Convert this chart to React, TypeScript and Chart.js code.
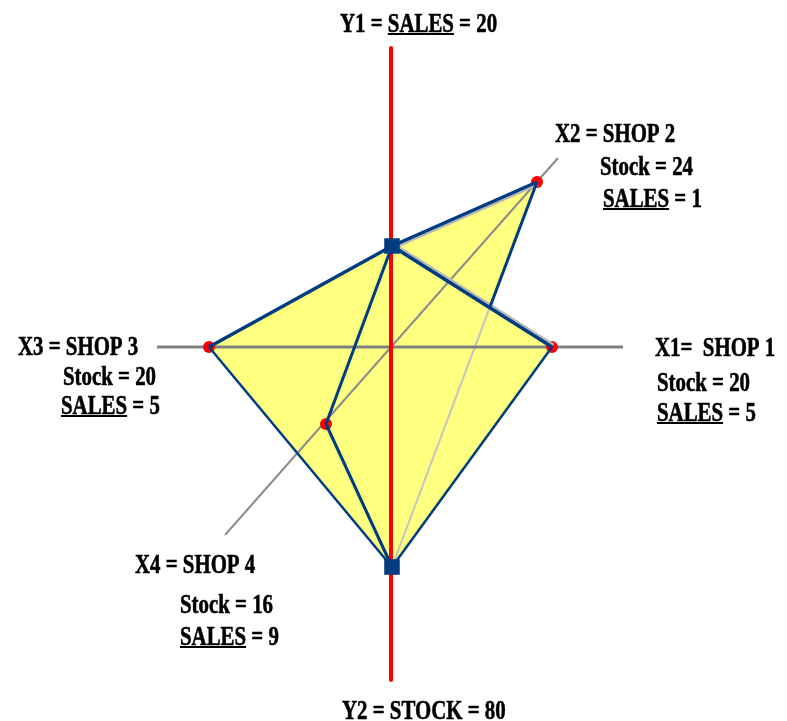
import React, { useEffect, useRef } from "react";
import { Chart, registerables } from "chart.js";

Chart.register(...registerables);

// ---------- data ----------
const shopIds = ["X1", "X2", "X3", "X4"];
const shopNames = ["SHOP 1", "SHOP 2", "SHOP 3", "SHOP 4"];
const shopStock = [20, 24, 20, 16];
const shopSales = [5, 1, 5, 9];
const totalSales = 20;
const totalStock = 80;

// positions of the shop points in chart units
const shopPosX = [16.1, 14.6, -18.2, -6.5];
const shopPosY = [0, 16.5, 0, -7.7];
// totals on the vertical axis
const salesPos = [0.1, 10.1];
const stockPos = [0.1, -22.0];

// axis extents in chart units
const verticalAxisY = [29.9, -33.3];
const horizontalAxisX = [-23.4, 23.2];
const diagonalAxisX = [-16.6, 16.7];
const diagonalAxisY = [-18.8, 18.9];

// ---------- layout / style ----------
const X_MIN = -39.1, X_MAX = 39.6, Y_MIN = -37.4, Y_MAX = 34.7;
const BLUE = "#003c80";
const RED = "#ff0000";
const GRAY = "#808080";
const LIGHT_GRAY = "#c4c4c4";
const SHADOW_GRAY = "#b8b8b8";
const YELLOW = "#ffff80";
const FONT = "bold 28px 'Liberation Serif', 'Times New Roman', serif";
const TEXT_SCALE_X = 0.745;

// label anchors (left, baseline) in chart units for each shop: 3 lines
const shopLabelX = [[26.4, 26.6, 26.6], [16.4, 20.9, 21.2], [-37.3, -32.8, -33.0], [-25.6, -21.1, -21.1]];
const shopLabelY = [[-0.9, -4.4, -7.4], [20.5, 17.2, 14.0], [-0.8, -3.8, -6.7], [-22.6, -26.6, -29.8]];
const salesLabelPos = [-5.1, 31.5];
const stockLabelPos = [-4.9, -37.2];

type P = { x: number; y: number };
const shopPts: P[] = shopPosX.map((x, i) => ({ x, y: shopPosY[i] }));
const Y1: P = { x: salesPos[0], y: salesPos[1] };
const Y2: P = { x: stockPos[0], y: stockPos[1] };

function intersect(a: P, b: P, c: P, d: P): P {
  const r = { x: b.x - a.x, y: b.y - a.y };
  const s = { x: d.x - c.x, y: d.y - c.y };
  const den = r.x * s.y - r.y * s.x;
  const t = ((c.x - a.x) * s.y - (c.y - a.y) * s.x) / den;
  return { x: a.x + t * r.x, y: a.y + t * r.y };
}

const [X1, X2, X3, X4] = shopPts;
const Pcross = intersect(X2, Y2, Y1, X1);

const fillPolys: P[][] = [
  [X3, Y1, X1, Y2],
  [Y1, X2, Y2],
];

function lineDs(pts: P[], color: string, width: number, order: number) {
  return {
    type: "scatter" as const,
    data: pts,
    showLine: true,
    borderColor: color,
    backgroundColor: color,
    borderWidth: width,
    pointRadius: 0,
    fill: false,
    order,
    borderCapStyle: "butt" as const,
    borderJoinStyle: "round" as const,
  };
}

// soft gray halo drawn just under an edge (offset by a fraction of a chart unit)
function shadowDs(a: P, b: P, dx: number, dy: number) {
  return lineDs([{ x: a.x + dx, y: a.y + dy }, { x: b.x + dx, y: b.y + dy }], SHADOW_GRAY, 3, 1.5);
}

function drawText(ctx: CanvasRenderingContext2D, text: string, px: number, py: number) {
  ctx.save();
  ctx.translate(px, py);
  ctx.scale(TEXT_SCALE_X, 1);
  ctx.fillText(text, 0, 0);
  ctx.strokeText(text, 0, 0);
  const idx = text.indexOf("SALES");
  if (idx >= 0) {
    const pre = ctx.measureText(text.slice(0, idx)).width;
    const w = ctx.measureText("SALES").width;
    ctx.fillRect(pre, 1, w, 2);
  }
  ctx.restore();
}

const overlayPlugin = {
  id: "overlay",
  beforeDatasetsDraw(chart: any) {
    const { ctx, scales } = chart;
    const sx = scales.x, sy = scales.y;
    ctx.save();
    ctx.fillStyle = YELLOW;
    for (const poly of fillPolys) {
      ctx.beginPath();
      poly.forEach((p, i) => {
        const X = sx.getPixelForValue(p.x), Yp = sy.getPixelForValue(p.y);
        if (i === 0) ctx.moveTo(X, Yp); else ctx.lineTo(X, Yp);
      });
      ctx.closePath();
      ctx.fill();
    }
    ctx.restore();
  },
  afterDatasetsDraw(chart: any) {
    const { ctx, scales } = chart;
    const sx = scales.x, sy = scales.y;
    ctx.save();
    ctx.font = FONT;
    ctx.fillStyle = "#000";
    ctx.strokeStyle = "#000";
    ctx.lineWidth = 0.6;
    ctx.textAlign = "left";
    ctx.textBaseline = "alphabetic";
    const at = (x: number, y: number, t: string) => drawText(ctx, t, sx.getPixelForValue(x), sy.getPixelForValue(y));
    at(salesLabelPos[0], salesLabelPos[1], `Y1 = SALES = ${totalSales}`);
    at(stockLabelPos[0], stockLabelPos[1], `Y2 = STOCK = ${totalStock}`);
    shopIds.forEach((id, i) => {
      const first = i === 0 ? `${id}=  ${shopNames[i]}` : `${id} = ${shopNames[i]}`;
      const lines = [first, `Stock = ${shopStock[i]}`, `SALES = ${shopSales[i]}`];
      lines.forEach((t, j) => at(shopLabelX[i][j], shopLabelY[i][j], t));
    });
    ctx.restore();
  },
};

export default function App() {
  const ref = useRef<HTMLCanvasElement | null>(null);
  useEffect(() => {
    if (!ref.current) return;
    const datasets: any[] = [
      // totals (squares) on top
      {
        type: "scatter",
        data: [Y1, Y2],
        pointStyle: "rect",
        pointRadius: 11,
        pointHoverRadius: 11,
        backgroundColor: BLUE,
        borderColor: BLUE,
        borderWidth: 0,
        showLine: false,
        order: 0,
      },
      // polygon edges
      lineDs([X3, Y1], BLUE, 3.5, 1),
      lineDs([Y1, X2], BLUE, 3.5, 1),
      lineDs([X2, Pcross], BLUE, 3, 1),
      lineDs([Y1, X1], BLUE, 3.5, 1),
      lineDs([X1, Y2], BLUE, 2.5, 1),
      lineDs([Y2, X3], BLUE, 2.5, 1),
      lineDs([Y1, X4], BLUE, 3, 1),
      lineDs([X4, Y2], BLUE, 3, 1),
      // soft halos under the upper edges
      shadowDs(Y1, X2, 0.05, -0.25),
      shadowDs(Y1, X1, 0.15, 0.2),
      // shop markers
      {
        type: "scatter",
        data: shopPts,
        pointStyle: "circle",
        pointRadius: 6,
        pointHoverRadius: 6,
        backgroundColor: RED,
        borderColor: RED,
        borderWidth: 0,
        showLine: false,
        order: 2,
      },
      // vertical red axis
      lineDs([{ x: 0.0, y: verticalAxisY[0] }, { x: 0.0, y: verticalAxisY[1] }], RED, 4, 3),
      // horizontal and diagonal gray axes
      lineDs([{ x: horizontalAxisX[0], y: 0 }, { x: horizontalAxisX[1], y: 0 }], GRAY, 3, 4),
      lineDs([{ x: diagonalAxisX[0], y: diagonalAxisY[0] }, { x: diagonalAxisX[1], y: diagonalAxisY[1] }], "#8c8c8c", 2, 4),
      // hidden part of X2–Y2 edge
      lineDs([Pcross, Y2], LIGHT_GRAY, 2, 5),
    ];
    const chart = new Chart(ref.current, {
      type: "scatter",
      data: { datasets },
      options: {
        animation: false,
        responsive: false,
        events: [],
        layout: { padding: 0, autoPadding: false },
        plugins: { legend: { display: false }, tooltip: { enabled: false } },
        scales: {
          x: { type: "linear", min: X_MIN, max: X_MAX, display: false },
          y: { type: "linear", min: Y_MIN, max: Y_MAX, display: false },
        },
      },
      plugins: [overlayPlugin],
    });
    return () => chart.destroy();
  }, []);
  return (
    <div style={{ position: "fixed", left: 0, top: 0, width: 787, height: 721, background: "#fff" }}>
      <canvas ref={ref} width={787} height={721} style={{ display: "block" }} />
    </div>
  );
}
